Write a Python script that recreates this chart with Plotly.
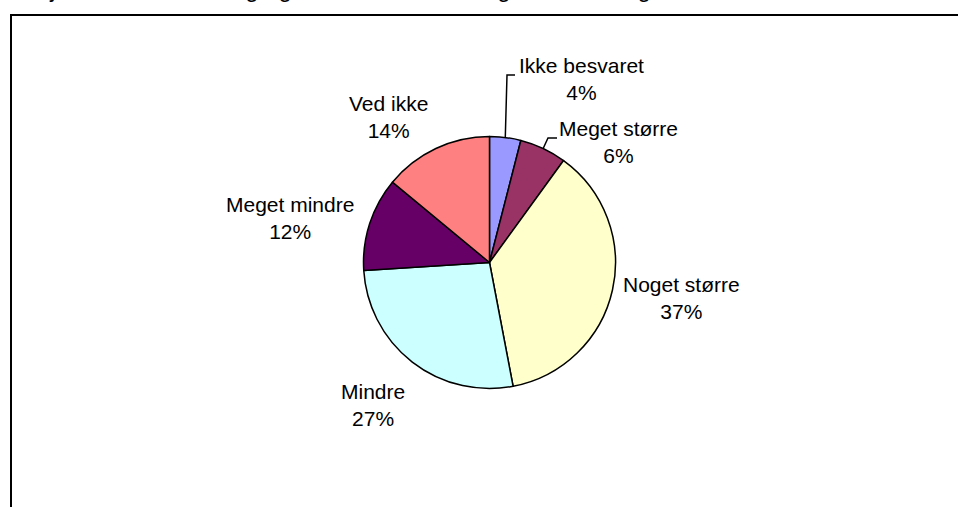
"""Pie chart of survey answers, drawn in the style of an old Excel chart."""
import math

import plotly.graph_objects as go

W, H = 958, 507

CATEGORIES = ["Ikke besvaret", "Meget større", "Noget større", "Mindre", "Meget mindre", "Ved ikke"]
VALUES = [4, 6, 37, 27, 12, 14]
COLORS = ["#9999FF", "#993366", "#FFFFCC", "#CCFFFF", "#660066", "#FF8080"]

TITLE = "Projektets hele omfang og den samlede mængde er nu langt større end forventet"

# layout (pixels from top-left)
CX, CY, R = 489.5, 262.5, 126
LABEL_POS = {
    "Ikke besvaret": (581, 79),
    "Meget større": (618, 142),
    "Noget større": (681, 298),
    "Mindre": (373, 405),
    "Meget mindre": (290, 218),
    "Ved ikke": (388, 117),
}
# elbow + end of the leader lines for the thin slices
LEADERS = {
    "Ikke besvaret": [(507, 75), (515, 75)],
    "Meget større": [(548, 138), (557, 138)],
}
FONT = "Arial, Liberation Sans, sans-serif"


def px(x):
    return x / W


def py(y):
    return 1 - y / H


total = sum(VALUES)
pcts = [round(v / total * 100) for v in VALUES]

fig = go.Figure(
    go.Pie(
        labels=CATEGORIES,
        values=VALUES,
        sort=False,
        direction="clockwise",
        rotation=0,
        marker=dict(colors=COLORS, line=dict(color="black", width=1.5)),
        textinfo="none",
        hoverinfo="label+percent",
        showlegend=False,
        domain=dict(x=[px(CX - R), px(CX + R)], y=[py(CY + R), py(CY - R)]),
    )
)

annotations = []
for cat, p in zip(CATEGORIES, pcts):
    x, y = LABEL_POS[cat]
    annotations.append(dict(
        x=px(x), y=py(y), xref="paper", yref="paper",
        text=f"{cat}<br>{p}%", showarrow=False,
        xanchor="center", yanchor="middle", align="center",
        font=dict(family=FONT, size=21, color="black"),
    ))

# title sits above the visible area, only the descenders peek in
annotations.append(dict(
    x=px(11), y=py(4.5), xref="paper", yref="paper",
    text=TITLE, showarrow=False, xanchor="left", yanchor="bottom",
    font=dict(family=FONT, size=24, color="black"),
))

shapes = [dict(
    type="rect", xref="paper", yref="paper",
    x0=px(11), x1=1.2, y0=-0.2, y1=py(15),
    line=dict(color="black", width=2), fillcolor="rgba(0,0,0,0)", layer="above",
)]

# leader lines start at the slice's outer edge (mid-angle)
cum = 0
for cat, v in zip(CATEGORIES, VALUES):
    mid = (cum + v / 2) / total * 2 * math.pi
    cum += v
    if cat not in LEADERS:
        continue
    pts = [(CX + R * math.sin(mid), CY - R * math.cos(mid))] + LEADERS[cat]
    path = "M " + " L ".join(f"{px(x)},{py(y)}" for x, y in pts)
    shapes.append(dict(type="path", xref="paper", yref="paper", path=path,
                       line=dict(color="black", width=1.5)))

fig.update_layout(
    width=W, height=H,
    margin=dict(l=0, r=0, t=0, b=0),
    paper_bgcolor="white", plot_bgcolor="white",
    annotations=annotations,
    shapes=shapes,
)

# drop the page's default body margin so the figure fills the window
fig.write_html(
    "out.html",
    config={"displayModeBar": False},
    post_script="document.body.style.margin='0';document.body.style.overflow='hidden';",
)
